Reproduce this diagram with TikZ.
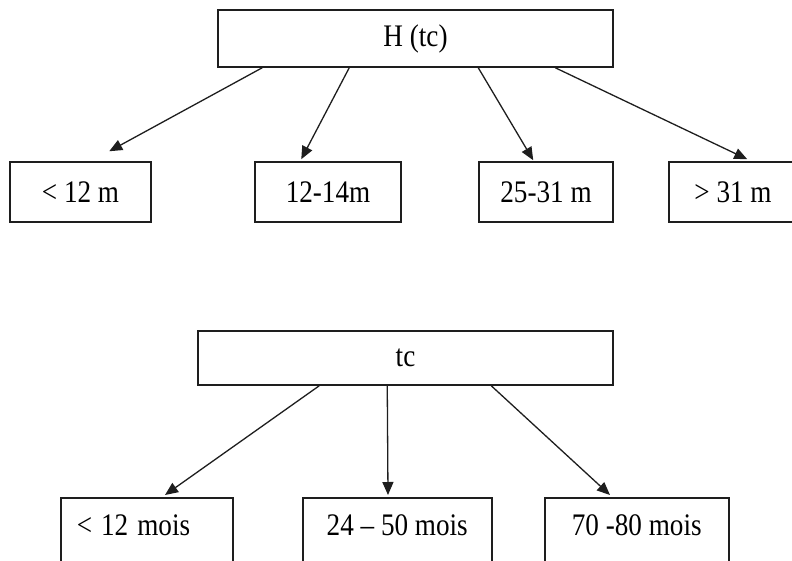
\documentclass[tikz,border=0pt]{standalone}
\usepackage{fontspec}
\usepackage{graphicx}
\setmainfont{Liberation Serif}
\usetikzlibrary{arrows.meta,calc}
\definecolor{ink}{HTML}{1E1E1E}
\newcommand{\tallt}[1]{\scalebox{0.97}[1.12]{#1}}
\tikzset{
  boxnode/.style={draw=ink, line width=1.5pt, rectangle, inner sep=0pt, font=\fontsize{28}{30}\selectfont, text=black},
  arr/.style={draw=ink, line width=1.3pt, -{Triangle[length=13pt,width=11pt]}}
}
\begin{document}
\begin{tikzpicture}[x=1pt,y=-1pt]
\useasboundingbox (0,0) rectangle (792,560);
\clip (0,0) rectangle (792,560);
% top tree
\node[boxnode, minimum width=395, minimum height=57] (H) at (415.5,38.5) {\tallt{H (tc)}};
\node[boxnode, minimum width=141, minimum height=60] (a1) at (80.5,192) {\tallt{< 12 m}};
\node[boxnode, minimum width=146, minimum height=60] (a2) at (328,192) {\tallt{12-14m}};
\node[boxnode, minimum width=134, minimum height=60] (a3) at (546,192) {\tallt{25-31 m}};
\node[boxnode, minimum width=128, minimum height=60] (a4) at (733,192) {\tallt{> 31 m}};
\draw[arr] ($(H.south west)+(45,0)$) -- ($(a1.north west)+(100,-10)$);
\draw[arr] ($(H.south west)+(132,0)$) -- ($(a2.north west)+(47,-2)$);
\draw[arr] ($(H.south west)+(261,0)$) -- ($(a3.north west)+(55,-1)$);
\draw[arr] ($(H.south west)+(338,0)$) -- ($(a4.north west)+(79,-2)$);
% bottom tree
\node[boxnode, minimum width=415, minimum height=54] (tc) at (405.5,358) {\tallt{tc}};
\node[boxnode, anchor=north west, inner xsep=16pt, text width=140pt, align=left, text height=37.5pt, text depth=60pt] (b1) at (60,497) {\tallt{< 12 mois}};
\node[boxnode, anchor=north west, minimum width=189, align=center, text height=37.5pt, text depth=60pt] (b2) at (302,497) {\tallt{24 – 50 mois}};
\node[boxnode, anchor=north west, minimum width=184, align=center, text height=37.5pt, text depth=60pt] (b3) at (544,497) {\tallt{70 -80 mois}};
\draw[arr] ($(tc.south west)+(122,0)$) -- ($(b1.north west)+(105,-2)$);
\draw[arr] ($(tc.south west)+(190,0)$) -- ($(b2.north west)+(86,-2)$);
\draw[arr] ($(tc.south west)+(294,0)$) -- ($(b3.north west)+(66,-2)$);
\end{tikzpicture}
\end{document}
